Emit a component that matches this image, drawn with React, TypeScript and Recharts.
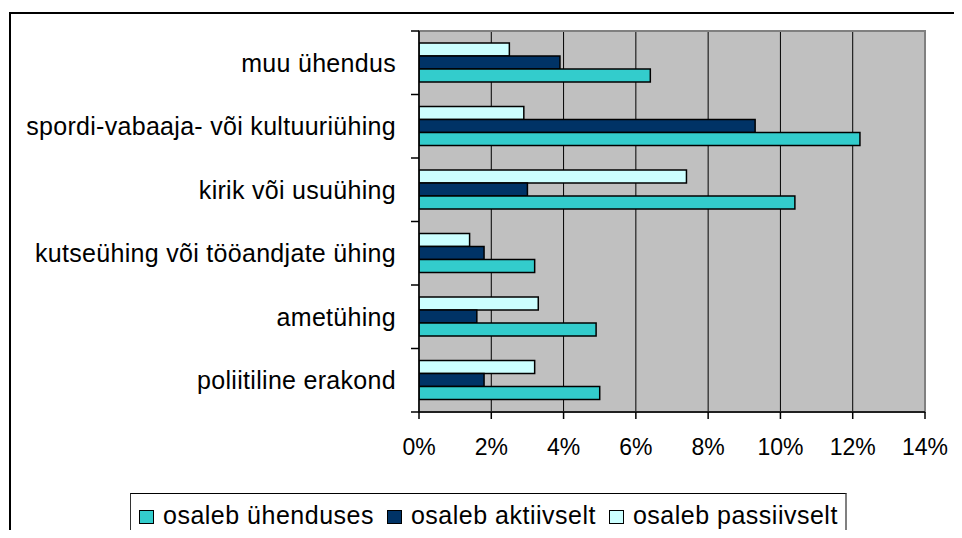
import React from "react";
import {
  Bar,
  BarChart,
  CartesianGrid,
  Legend,
  ReferenceArea,
  XAxis,
  YAxis,
} from "recharts";

// Osalemine ühendustes (% vastajatest), kategooriad ülevalt alla
const categories = [
  "muu ühendus",
  "spordi-vabaaja- või kultuuriühing",
  "kirik või usuühing",
  "kutseühing või tööandjate ühing",
  "ametühing",
  "poliitiline erakond",
];

const ühenduses = [6.4, 12.2, 10.4, 3.2, 4.9, 5.0];
const aktiivselt = [3.9, 9.3, 3.0, 1.8, 1.6, 1.8];
const passiivselt = [2.5, 2.9, 7.4, 1.4, 3.3, 3.2];

const xTicks = [0, 2, 4, 6, 8, 10, 12, 14];

const SERIES = [
  { key: "passiivselt", label: "osaleb passiivselt", color: "#CCFFFF" },
  { key: "aktiivselt", label: "osaleb aktiivselt", color: "#003366" },
  { key: "ühenduses", label: "osaleb ühenduses", color: "#33CCCC" },
];

// legend reads in the opposite order to the bars
const LEGEND_ORDER = ["ühenduses", "aktiivselt", "passiivselt"];

const data = categories.map((name, i) => ({
  name,
  ühenduses: ühenduses[i],
  aktiivselt: aktiivselt[i],
  passiivselt: passiivselt[i],
}));

const FONT = "'Liberation Sans', Arial, sans-serif";
const CAT_TICK_SIZE = 8;
const CAT_TICK_MARGIN = 15;

// Excel-style category axis: label at the band centre, tick marks on the
// band edges (payload.offset is half the band).
function CategoryTick(props: any) {
  const { x, y, payload, index, visibleTicksCount } = props;
  const axisX = x + CAT_TICK_MARGIN + CAT_TICK_SIZE;
  const half = payload.offset ?? 0;
  return (
    <g>
      <line
        x1={axisX - CAT_TICK_SIZE}
        x2={axisX}
        y1={y - half}
        y2={y - half}
        stroke="#000"
        strokeWidth={1.5}
      />
      {index === visibleTicksCount - 1 && (
        <line
          x1={axisX - CAT_TICK_SIZE}
          x2={axisX}
          y1={y + half}
          y2={y + half}
          stroke="#000"
          strokeWidth={1.5}
        />
      )}
      <text
        x={x}
        y={y}
        dy="0.36em"
        textAnchor="end"
        fontSize={25}
        letterSpacing={0.3}
        fill="#000"
      >
        {payload.value}
      </text>
    </g>
  );
}

function BoxLegend() {
  return (
    <div
      style={{
        boxSizing: "border-box",
        height: 44,
        borderTop: "1.5px solid #000",
        borderLeft: "1.5px solid #333",
        borderRight: "2px solid #808080",
        borderBottom: "1px solid #bbb",
        background: "#fff",
        display: "flex",
        alignItems: "center",
        paddingLeft: 8,
        fontFamily: FONT,
        fontSize: 25,
        letterSpacing: 0.5,
        color: "#000",
        whiteSpace: "nowrap",
      }}
    >
      {LEGEND_ORDER.map((k) => {
        const s = SERIES.find((x) => x.key === k)!;
        return (
          <span
            key={k}
            style={{ display: "flex", alignItems: "center", marginRight: 13 }}
          >
            <span
              style={{
                boxSizing: "border-box",
                width: 15,
                height: 14,
                background: s.color,
                border: "1.5px solid #000",
                marginRight: 9,
                marginTop: 4,
              }}
            />
            <span>{s.label}</span>
          </span>
        );
      })}
    </div>
  );
}

export default function App() {
  return (
    <div
      style={{
        margin: -8,
        width: 962,
        height: 538,
        position: "relative",
        overflow: "hidden",
        background: "#fff",
      }}
    >
      {/* chart frame, only its left and top edges fall inside the picture */}
      <div
        style={{
          position: "absolute",
          left: 9,
          top: 12,
          width: 1100,
          height: 700,
          border: "2px solid #000",
        }}
      />
      <div style={{ position: "absolute", left: 0, top: 0 }}>
        <BarChart
          width={962}
          height={538}
          data={data}
          layout="vertical"
          margin={{ top: 31, right: 37, bottom: 0, left: 0 }}
          barCategoryGap={12}
          barGap={0}
          style={{ fontFamily: FONT }}
        >
          <CartesianGrid
            horizontal={false}
            fill="#C0C0C0"
            fillOpacity={1}
            stroke="#000"
            strokeWidth={1}
          />
          <ReferenceArea
            x1={0}
            x2={14}
            fill="none"
            stroke="#808080"
            strokeWidth={2}
            ifOverflow="visible"
          />
          <YAxis
            type="category"
            dataKey="name"
            width={419}
            axisLine={{ stroke: "#000", strokeWidth: 1.5 }}
            tickLine={false}
            tickSize={CAT_TICK_SIZE}
            tickMargin={CAT_TICK_MARGIN}
            interval={0}
            tick={<CategoryTick />}
          />
          <XAxis
            type="number"
            domain={[0, 14]}
            ticks={xTicks}
            tickFormatter={(v) => `${v}%`}
            height={82}
            tickSize={7}
            tickMargin={20}
            axisLine={{ stroke: "#000", strokeWidth: 1.5 }}
            tickLine={{ stroke: "#000", strokeWidth: 1.5 }}
            tick={{ fontSize: 23, fill: "#000" }}
            allowDataOverflow
          />
          <Legend
            verticalAlign="bottom"
            content={<BoxLegend />}
            wrapperStyle={{ left: 130, width: 717, bottom: 1 }}
          />
          {SERIES.map((s) => (
            <Bar
              key={s.key}
              dataKey={s.key}
              name={s.label}
              fill={s.color}
              stroke="#000"
              strokeWidth={1.5}
              isAnimationActive={false}
            />
          ))}
        </BarChart>
      </div>
    </div>
  );
}
